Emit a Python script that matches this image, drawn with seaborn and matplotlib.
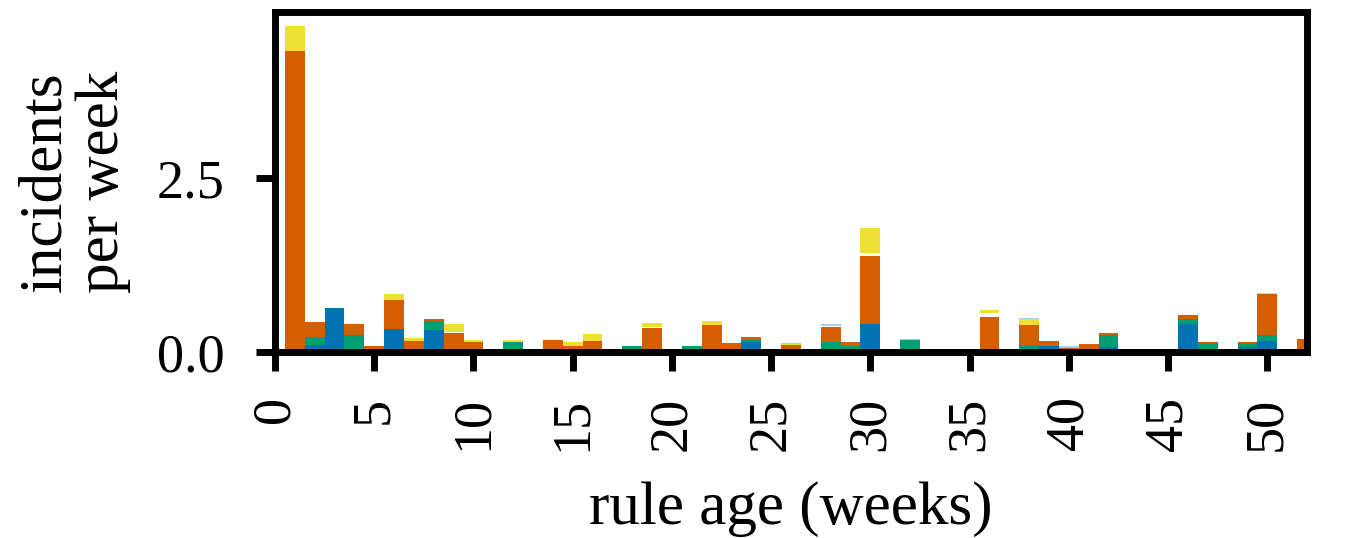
import matplotlib
matplotlib.use("Agg")
import matplotlib.pyplot as plt
import seaborn as sns
import pandas as pd

weeks = list(range(1, 53))

# incidents per week by source (weeks 1..52)
blue = [0, .10, .64, 0, 0, .33, 0, .32, 0, 0, 0, 0, 0,
        0, 0, 0, 0, 0, 0, 0, 0, 0, .05, .15, 0, 0,
        0, 0, 0, .40, 0, 0, 0, 0, 0, 0, 0, 0, .08, 0,
        0, .07, 0, 0, 0, .40, 0, 0, .07, .16, 0, 0]
green = [0, .11, 0, .25, 0, 0, 0, .12, 0, 0, 0, .14, 0,
         0, 0, 0, 0, .08, 0, 0, .08, 0, 0, .02, 0, 0,
         0, .14, .08, 0, 0, .18, 0, 0, 0, .02, 0, .10, 0, 0,
         0, .17, 0, 0, 0, .07, .13, 0, .06, .09, 0, 0]
orange = [4.34, .22, 0, .15, .08, .42, .16, .04, .27, .145, 0, 0, 0,
          .17, .08, .16, 0, 0, .34, 0, .01, .39, .08, .04, 0, .10,
          0, .22, .07, .98, 0, 0, 0, 0, 0, .49, 0, .29, .08, .06,
          .11, .03, 0, 0, 0, .07, .015, .02, .01, .58, 0, .19]
gap = [0, 0, 0, 0, 0, 0, 0, 0, .02, 0, 0, 0, 0,
       0, 0, 0, 0, 0, .02, 0, 0, 0, 0, 0, 0, 0,
       0, .02, 0, .05, 0, 0, 0, 0, 0, .05, 0, 0, 0, 0,
       0, 0, 0, 0, 0, 0, 0, 0, 0, 0, 0, 0]
yellow = [.36, 0, 0, 0, 0, .09, .04, 0, .12, .03, 0, .03, .02,
          0, .07, .10, 0, 0, .06, 0, 0, .06, 0, 0, .03, .02,
          0, 0, 0, .35, 0, 0, 0, 0, 0, .04, 0, .08, 0, 0,
          0, 0, 0, 0, 0, 0, 0, .01, 0, .02, 0, 0]
light = [0, 0, 0, 0, 0, 0, 0, 0, 0, 0, 0, 0, 0,
         0, 0, 0, 0, 0, 0, 0, 0, 0, 0, 0, 0, .015,
         0, .02, 0, 0, .03, .01, .01, 0, 0, 0, 0, .02, 0, .03,
         0, 0, 0, 0, 0, 0, 0, 0, 0, 0, 0, 0]

series = {"blue": blue, "green": green, "orange": orange,
          "gap": gap, "yellow": yellow, "light": light}
colors = {"blue": "#0173B2", "green": "#029E73", "orange": "#D55E00",
          "gap": "#FFFFFF", "yellow": "#ECE133", "light": "#9FD3F0"}

rows = []
for name, vals in series.items():
    for w, v in zip(weeks, vals):
        rows.append({"week": w, "source": name, "incidents": v})
df = pd.DataFrame(rows)

sns.set_style("white")
plt.rcParams['font.family'] = ['Liberation Serif', 'DejaVu Serif']
plt.rcParams['font.size'] = 44
for k in ['text.color', 'axes.labelcolor', 'xtick.color', 'ytick.color']:
    plt.rcParams[k] = 'black'

fig = plt.figure(figsize=(13.46, 5.38), dpi=100)
ax = fig.add_axes([0.2043, 0.3457, 0.7667, 0.6323])

# first hue level is drawn on top of the stack
order = ["light", "yellow", "gap", "orange", "green", "blue"]
sns.histplot(data=df, x="week", weights="incidents", hue="source",
             hue_order=order, palette=colors, multiple="stack",
             discrete=True, shrink=1, linewidth=0, alpha=1,
             legend=False, ax=ax)

ax.set_xlim(0, 52)
ax.set_ylim(0, 4.9)
ax.set_xticks(range(0, 51, 5))
ax.set_yticks([0, 2.5])
ax.set_yticklabels(["0.0", "2.5"])
ax.set_xlabel("rule age (weeks)", fontsize=44)
ax.set_ylabel("incidents\nper week", fontsize=44, linespacing=1.05)
ax.xaxis.set_label_coords(0.5, -0.38)
ax.yaxis.set_label_coords(-0.14, 0.5)
ax.tick_params(axis="x", labelrotation=90, pad=18)
ax.tick_params(axis="y", pad=22)
ax.tick_params(axis="both", direction="out", length=14, width=5,
               labelsize=39, bottom=True, left=True)
for s in ax.spines.values():
    s.set_linewidth(5)
    s.set_color("black")

fig.savefig("out.png", dpi=100)
